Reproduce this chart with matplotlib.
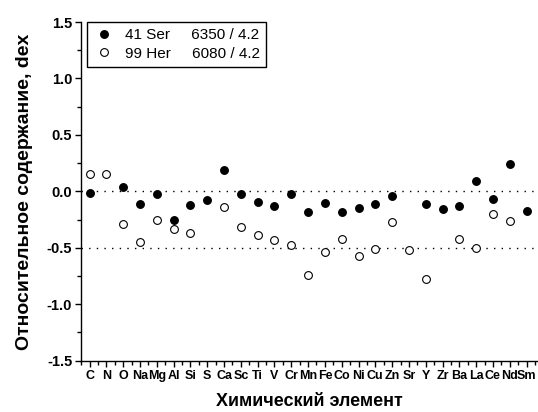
"""
Relative abundances of elements, 41 Ser vs 99 Her
"""

import matplotlib as mpl
import matplotlib.pyplot as plt
import numpy as np

# ========== Data ==========
elements = ['C', 'N', 'O', 'Na', 'Mg', 'Al', 'Si', 'S', 'Ca', 'Sc', 'Ti', 'V', 'Cr', 'Mn',
            'Fe', 'Co', 'Ni', 'Cu', 'Zn', 'Sr', 'Y', 'Zr', 'Ba', 'La', 'Ce', 'Nd', 'Sm']

# 41 Ser (filled), None = no value
ser41 = [-0.01, None, 0.04, -0.115, -0.02, -0.25, -0.12, -0.08, 0.19, -0.02, -0.095, -0.13, -0.02, -0.18,
         -0.10, -0.18, -0.145, -0.11, -0.04, None, -0.115, -0.155, -0.13, 0.09, -0.065, 0.24, -0.17]

# 99 Her (open)
her99 = [0.15, 0.15, -0.29, -0.45, -0.25, -0.33, -0.37, None, -0.14, -0.32, -0.39, -0.435, -0.475, -0.745,
         -0.54, -0.42, -0.57, -0.51, -0.275, -0.52, -0.78, None, -0.42, -0.50, -0.20, -0.26, None]

label_ser = '41 Ser     6350 / 4.2'
label_her = '99 Her     6080 / 4.2'

# ========== Plot ==========
mpl.rcParams['font.family'] = ['Liberation Sans', 'DejaVu Sans']
mpl.rcParams['axes.linewidth'] = 1.0

x = np.arange(1, len(elements) + 1)
ser_arr = np.array([np.nan if v is None else v for v in ser41])
her_arr = np.array([np.nan if v is None else v for v in her99])

fig = plt.figure(figsize=(5.38, 4.12), dpi=100)
ax = fig.add_axes([0.151, 0.1245, 0.848, 0.822])

ax.axhline(0.0, color='black', linewidth=1.0, linestyle=(0, (1, 4.5)))
ax.axhline(-0.5, color='black', linewidth=1.0, linestyle=(0, (1, 4.5)))

ax.plot(x, ser_arr, 'o', color='black', markersize=5.4, label=label_ser)
ax.plot(x, her_arr, 'o', markerfacecolor='white', markeredgecolor='black',
        markeredgewidth=0.8, markersize=5.6, label=label_her)

ax.set_xlim(0.56, 27.65)
ax.set_ylim(-1.5, 1.5)

ax.set_xticks(x)
ax.set_xticklabels(elements, fontsize=9, fontweight='bold')
ax.set_xticks(np.arange(0.5, 28, 1), minor=True)
ax.set_yticks(np.arange(-1.5, 1.51, 0.5))
ax.set_yticklabels([f'{v:.1f}' for v in np.arange(-1.5, 1.51, 0.5)], fontsize=10.5, fontweight='bold')
ax.set_yticks(np.arange(-1.25, 1.5, 0.5), minor=True)

ax.tick_params(axis='both', which='major', direction='out', length=4.5, width=1, pad=2)
ax.tick_params(axis='both', which='minor', direction='out', length=3, width=1)

ax.spines['top'].set_visible(False)
ax.spines['right'].set_visible(False)

ax.set_xlabel('Химический элемент', fontsize=13, fontweight='bold', labelpad=8)
ax.set_ylabel('Относительное содержание, dex', fontsize=14, fontweight='bold', labelpad=10)

leg = ax.legend(loc='upper left', bbox_to_anchor=(0.012, 1.0), fontsize=11,
                frameon=True, fancybox=False, edgecolor='black', framealpha=1,
                handletextpad=0.6, borderpad=0.4, labelspacing=0.3, handlelength=1.5,
                borderaxespad=0)
leg.get_frame().set_linewidth(1.0)

plt.savefig('out.png', dpi=100)
